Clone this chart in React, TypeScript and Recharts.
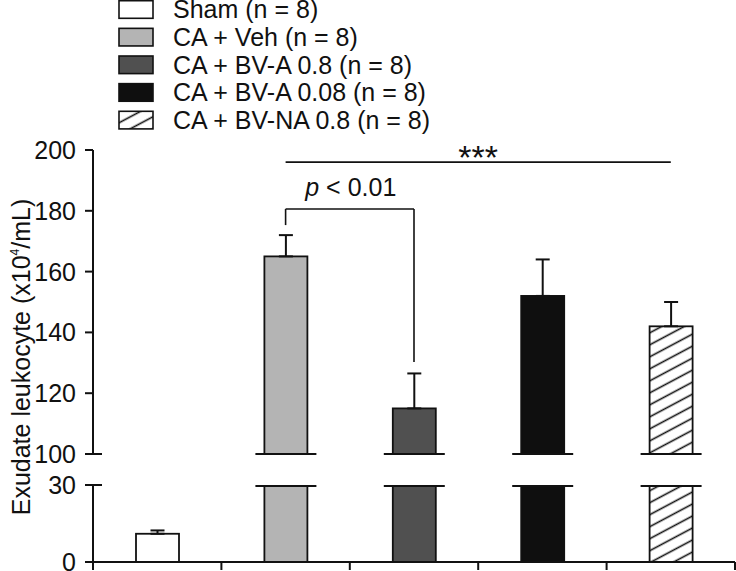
import React from 'react';
import { BarChart, Bar, XAxis, YAxis, Cell, ErrorBar, ReferenceLine } from 'recharts';

const FONT = '"Liberation Sans", Arial, Helvetica, sans-serif';
const INK = '#111111';
const FS = 25;

// ---- data ----
const categories = ['Sham', 'CA + Veh', 'CA + BV-A 0.8', 'CA + BV-A 0.08', 'CA + BV-NA 0.8'];
const groupN = [8, 8, 8, 8, 8];
const means = [11, 165, 115, 152, 142];
const sems = [1.3, 7, 11.5, 12, 8];
const fills = ['#ffffff', '#b4b4b4', '#505050', '#0f0f0f', 'url(#hatchPattern)'];

const topTicks = [100, 120, 140, 160, 180, 200];
const bottomTicks = [0, 30];
const topDomain: [number, number] = [100, 200];
const bottomDomain: [number, number] = [0, 30];

// significance annotations (in data units)
const allBracketY = 196;
const pBracketY = 180.6;
const pLeftEndY = 175.3;
const pRightEndY = 130.3;

// rows for the library
const topRows = categories.map((name, i) => ({
  name,
  value: means[i] >= topDomain[0] ? means[i] : null,
  err: means[i] >= topDomain[0] ? [0, sems[i]] : null,
}));
const bottomRows = categories.map((name, i) => ({
  name,
  value: means[i],
  err: means[i] <= bottomDomain[1] ? [0, sems[i]] : null,
}));

const axisStyle = { stroke: INK, strokeWidth: 2 };
const TICK_SIZE = 8;
const TICK_MARGIN = 9;
const BREAK_EXT = 9;
const BAR_STROKE = 1.8;

// y tick label; the tick at the axis break also gets a stub inside the axis
const makeYTick = (breakValue: number) => (props: any) => {
  const { x, y, payload } = props;
  const axisX = x + TICK_SIZE + TICK_MARGIN;
  return (
    <g>
      <text x={x} y={y} dy="0.36em" textAnchor="end" fontSize={FS} fontFamily={FONT} fill={INK}>
        {payload.value}
      </text>
      {payload.value === breakValue ? (
        <line x1={axisX} x2={axisX + BREAK_EXT} y1={y} y2={y} stroke={INK} strokeWidth={2} />
      ) : null}
    </g>
  );
};
const TopYTick = makeYTick(topDomain[0]);
const BottomYTick = makeYTick(bottomDomain[1]);

// bar of the upper segment: rectangle + break mark on its base
const TopBarShape = (p: any) => {
  const { x, y, width, height, fill } = p;
  if (p.value == null || !height) return null;
  return (
    <g>
      <rect x={x} y={y} width={width} height={height} fill={fill} stroke={INK} strokeWidth={BAR_STROKE} />
      <line x1={x - BREAK_EXT} x2={x + width + BREAK_EXT} y1={y + height} y2={y + height} stroke={INK} strokeWidth={2} />
    </g>
  );
};

// bar of the lower segment: rectangle + break mark where it leaves the plot
const BottomBarShape = (p: any) => {
  const { x, y, width, height, fill, background } = p;
  const top = background && typeof background.y === 'number' ? background.y : null;
  const broken = top != null && y < top;
  return (
    <g>
      <rect x={x} y={y} width={width} height={height} fill={fill} stroke={INK} strokeWidth={BAR_STROKE} />
      {broken ? (
        <line x1={x - BREAK_EXT} x2={x + width + BREAK_EXT} y1={top + 1} y2={top + 1} stroke={INK} strokeWidth={2} />
      ) : null}
    </g>
  );
};

// x ticks drawn on group boundaries
const BoundaryTick = (props: any) => {
  const { x, y, width, visibleTicksCount, index, payload } = props;
  let band = 0;
  if (width && visibleTicksCount) band = width / visibleTicksCount;
  else if (payload && payload.offset) band = payload.offset * 2;
  const xs = [x + band / 2];
  if (index === 0) xs.push(x - band / 2);
  return (
    <g>
      {xs.map((xx, k) => (
        <line key={k} x1={xx} x2={xx} y1={y} y2={y + 8} stroke={INK} strokeWidth={2} />
      ))}
    </g>
  );
};

const starsLabel = (props: any) => {
  const vb = props.viewBox || {};
  return (
    <text x={vb.x + vb.width / 2} y={vb.y + 6.5} textAnchor="middle" fontSize={34} fontFamily={FONT} fill={INK}>
      ***
    </text>
  );
};

const pLabel = (props: any) => {
  const vb = props.viewBox || {};
  return (
    <text x={vb.x + vb.width / 2 + 1} y={vb.y - 13} textAnchor="middle" fontSize={FS} fontFamily={FONT} fill={INK}>
      <tspan fontStyle="italic">p</tspan>
      <tspan> &lt; 0.01</tspan>
    </text>
  );
};

export default function App() {
  return (
    <div style={{ position: 'absolute', left: 0, top: 0, width: 736, height: 571, background: '#fff', overflow: 'hidden' }}>
      <svg width={0} height={0} style={{ position: 'absolute' }}>
        <defs>
          <pattern id="hatchPattern" patternUnits="userSpaceOnUse" width={12} height={10.6} patternTransform="rotate(-28)">
            <rect x={0} y={0} width={12} height={10.6} fill="#ffffff" />
            <line x1={0} y1={5.3} x2={12} y2={5.3} stroke={INK} strokeWidth={1.6} />
          </pattern>
        </defs>
      </svg>

      {/* upper segment 100-200 */}
      <div style={{ position: 'absolute', left: 0, top: 0 }}>
        <BarChart width={736} height={470} data={topRows} margin={{ top: 150, right: 1, bottom: 16, left: 0 }}>
          <XAxis dataKey="name" hide />
          <YAxis
            width={93}
            domain={topDomain}
            ticks={topTicks}
            interval={0}
            tickSize={TICK_SIZE}
            tickMargin={TICK_MARGIN}
            tick={TopYTick}
            axisLine={axisStyle}
            tickLine={axisStyle}
          />
          <Bar dataKey="value" barSize={43} shape={TopBarShape} isAnimationActive={false}>
            {categories.map((c, i) => (
              <Cell key={c} fill={fills[i]} />
            ))}
            <ErrorBar dataKey="err" width={7} stroke={INK} strokeWidth={2} direction="y" />
          </Bar>
          <ReferenceLine
            ifOverflow="visible"
            segment={[{ x: categories[1], y: allBracketY }, { x: categories[4], y: allBracketY }]}
            stroke={INK}
            strokeWidth={1.6}
            label={starsLabel}
          />
          <ReferenceLine
            ifOverflow="visible"
            segment={[{ x: categories[1], y: pBracketY }, { x: categories[2], y: pBracketY }]}
            stroke={INK}
            strokeWidth={1.6}
            label={pLabel}
          />
          <ReferenceLine
            ifOverflow="visible"
            segment={[{ x: categories[1], y: pLeftEndY }, { x: categories[1], y: pBracketY }]}
            stroke={INK}
            strokeWidth={1.6}
          />
          <ReferenceLine
            ifOverflow="visible"
            segment={[{ x: categories[2], y: pRightEndY }, { x: categories[2], y: pBracketY }]}
            stroke={INK}
            strokeWidth={1.6}
          />
        </BarChart>
      </div>

      {/* lower segment 0-30 */}
      <div style={{ position: 'absolute', left: 0, top: 470 }}>
        <BarChart width={736} height={101} data={bottomRows} margin={{ top: 15, right: 1, bottom: 0, left: 0 }}>
          <XAxis
            dataKey="name"
            interval={0}
            height={9}
            tickLine={false}
            tickSize={0}
            tickMargin={0}
            tick={BoundaryTick}
            axisLine={axisStyle}
          />
          <YAxis
            width={93}
            domain={bottomDomain}
            ticks={bottomTicks}
            allowDataOverflow
            interval={0}
            tickSize={TICK_SIZE}
            tickMargin={TICK_MARGIN}
            tick={BottomYTick}
            axisLine={axisStyle}
            tickLine={axisStyle}
          />
          <Bar dataKey="value" barSize={43} shape={BottomBarShape} isAnimationActive={false}>
            {categories.map((c, i) => (
              <Cell key={c} fill={fills[i]} />
            ))}
            <ErrorBar dataKey="err" width={7} stroke={INK} strokeWidth={2} direction="y" />
          </Bar>
        </BarChart>
      </div>

      {/* legend and axis title */}
      <svg width={736} height={571} style={{ position: 'absolute', left: 0, top: 0, pointerEvents: 'none' }}>
        {categories.map((c, i) => {
          const cy = 9.5 + i * 27.65;
          return (
            <g key={c}>
              <rect x={119} y={cy - 8.8} width={34} height={17.6} fill={fills[i]} stroke={INK} strokeWidth={1.6} />
              <text x={173} y={cy + 8.9} fontSize={FS} fontFamily={FONT} fill={INK}>
                {`${c} (n = ${groupN[i]})`}
              </text>
            </g>
          );
        })}
        <text transform="translate(30, 357) rotate(-90)" textAnchor="middle" fontSize={FS} fontFamily={FONT} fill={INK}>
          <tspan>Exudate leukocyte (x10</tspan>
          <tspan fontSize={12} dy={-11}>4</tspan>
          <tspan dy={11}>/mL)</tspan>
        </text>
      </svg>
    </div>
  );
}
